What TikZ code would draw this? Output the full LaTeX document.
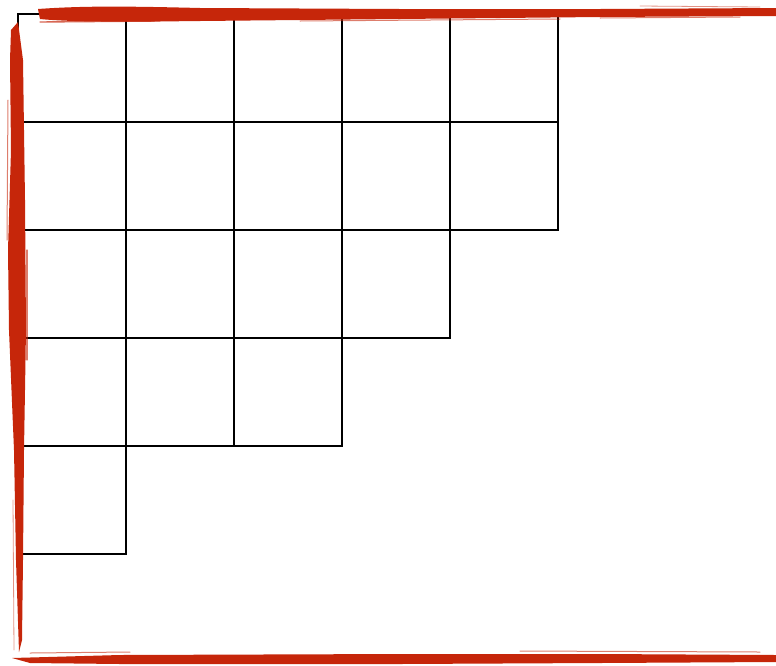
\documentclass[tikz,border=0pt]{standalone}
\definecolor{brush}{RGB}{198,38,10}
\begin{document}
\begin{tikzpicture}[x=1pt,y=-1pt,
  cellline/.style={draw=black,line width=2.8pt,line cap=rect},
  streak/.style={draw=brush,line cap=round}]
\useasboundingbox (0,0) rectangle (776,665);
% Young diagram grid: rows 5,5,4,3,1
\draw[cellline] (18,14) -- (558,14);
\draw[cellline] (18,122) -- (558,122);
\draw[cellline] (18,230) -- (558,230);
\draw[cellline] (18,338) -- (450,338);
\draw[cellline] (18,446) -- (342,446);
\draw[cellline] (18,554) -- (126,554);
\draw[cellline] (18,14) -- (18,554);
\draw[cellline] (126,14) -- (126,554);
\draw[cellline] (234,14) -- (234,446);
\draw[cellline] (342,14) -- (342,446);
\draw[cellline] (450,14) -- (450,338);
\draw[cellline] (558,14) -- (558,230);
% red brush: top
\fill[brush] (38,9) .. controls (80,6) and (120,6) .. (200,8)
  -- (400,9) -- (600,9) -- (776,8) -- (776,16) -- (600,17) -- (400,19)
  -- (200,21) .. controls (120,22) and (70,22) .. (40,19) -- cycle;
\draw[streak,line width=1.4pt,opacity=.7] (40,22) -- (160,21);
\draw[streak,line width=1pt,opacity=.6] (300,21) -- (560,19);
\draw[streak,line width=1pt,opacity=.6] (600,18) -- (740,17);
\draw[streak,line width=.8pt,opacity=.5] (640,6) -- (760,7);
% red brush: left
\fill[brush] (11,30) -- (18,22) -- (23,60) -- (25,200) -- (26,330)
  -- (24,450) -- (23,560) -- (22,640) -- (19,652) -- (16,560)
  -- (14,450) -- (9,330) -- (8,250) -- (11,150) -- (10,60) -- cycle;
\draw[streak,line width=1pt,opacity=.6] (8,100) -- (7,240);
\draw[streak,line width=1.2pt,opacity=.6] (27,250) -- (27,360);
\draw[streak,line width=.8pt,opacity=.5] (13,500) -- (14,650);
% red brush: bottom
\fill[brush] (12,658) -- (120,655) -- (400,654) -- (600,654) -- (776,655)
  -- (776,662) -- (600,663) -- (400,664) -- (120,664) -- (30,663) -- cycle;
\draw[streak,line width=1pt,opacity=.6] (30,653) -- (130,652);
\draw[streak,line width=1pt,opacity=.6] (520,651) -- (760,652);
\end{tikzpicture}
\end{document}
